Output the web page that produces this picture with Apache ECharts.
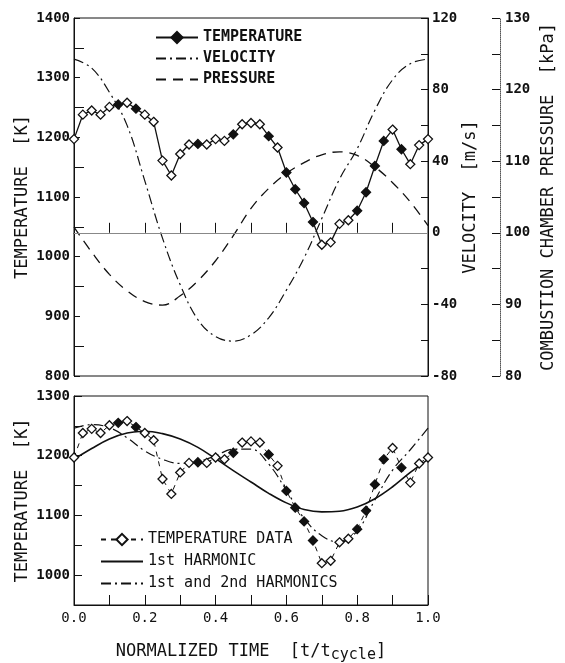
<!DOCTYPE html>
<html>
<head>
<meta charset="utf-8">
<title>Temperature, velocity and pressure over one cycle</title>
<script src="https://cdn.jsdelivr.net/npm/echarts@6/dist/echarts.min.js"></script>
<style>
  html, body { margin: 0; padding: 0; background: #fff; }
  #chart { width: 565px; height: 663px; }
</style>
</head>
<body>
<div id="chart"></div>
<script>
// measured temperature, one sample every 0.025 of the cycle
var sampleTime = [0, 0.025, 0.05, 0.075, 0.1, 0.125, 0.15, 0.175, 0.2, 0.225,
  0.25, 0.275, 0.3, 0.325, 0.35, 0.375, 0.4, 0.425, 0.45, 0.475,
  0.5, 0.525, 0.55, 0.575, 0.6, 0.625, 0.65, 0.675, 0.7, 0.725,
  0.75, 0.775, 0.8, 0.825, 0.85, 0.875, 0.9, 0.925, 0.95, 0.975, 1.0];
var temperature = [1197, 1238, 1245, 1238, 1251, 1255, 1258, 1248, 1238, 1226,
  1161, 1136, 1172, 1188, 1189, 1188, 1197, 1194, 1205, 1222,
  1224, 1222, 1202, 1183, 1141, 1113, 1090, 1058, 1020, 1024,
  1055, 1061, 1077, 1108, 1152, 1194, 1213, 1180, 1155, 1187, 1197];

// smooth curves, read every 0.05
var curveTime = [0, 0.05, 0.1, 0.15, 0.2, 0.25, 0.3, 0.35, 0.4, 0.45, 0.5,
  0.55, 0.6, 0.65, 0.7, 0.75, 0.8, 0.85, 0.9, 0.95, 1.0];
var velocity = [97, 92, 78.5, 60, 29, -3, -29, -48.5, -58, -60.5, -57,
  -47.5, -32, -14, 8, 30, 47, 68.5, 85.5, 94.5, 97];
var pressure = [100.8, 97.3, 94.2, 91.9, 90.4, 89.9, 91.2, 93.3, 96.1, 99.6, 103.4,
  106.2, 108.3, 109.8, 110.9, 111.3, 110.8, 109.2, 107.0, 104.3, 101.0];
var harmonic1 = [1194, 1212, 1228, 1238, 1241, 1237, 1228, 1214, 1195, 1175, 1156,
  1137, 1121, 1110, 1106, 1107, 1114, 1128, 1148, 1172, 1194];
var harmonic12 = [1246, 1252, 1247, 1230, 1208, 1194, 1187, 1190, 1200, 1211, 1211,
  1186, 1142, 1095, 1066, 1055, 1074, 1126, 1176, 1210, 1246];

// samples drawn with a filled diamond
var filledMarks = [5, 7, 14, 18, 22, 24, 25, 26, 27, 32, 33, 34, 35, 37];

var font = "DejaVu Sans Mono";
var ink = "#111";
var clear = "rgba(0,0,0,0)";

function pairs(xs, ys) {
  return xs.map(function (x, i) { return [x, ys[i]]; });
}

function diamonds(openFill) {
  return sampleTime.map(function (t, i) {
    var filled = filledMarks.indexOf(i) >= 0;
    return {
      value: [t, temperature[i]],
      itemStyle: { color: filled ? ink : openFill, borderColor: ink, borderWidth: 1.3 }
    };
  });
}

var tickLabel = {
  fontFamily: font, fontSize: 14, fontWeight: "bold", color: ink,
  formatter: function (v) { return String(v); }
};
var titleText = { fontFamily: font, fontSize: 17, color: ink };
var dashDot = [10, 4, 2, 4];

var myChart = echarts.init(document.getElementById("chart"));
myChart.setOption({
  animation: false,
  backgroundColor: "#fff",
  grid: [
    { left: 74, top: 18, width: 354, height: 358, show: true, borderColor: ink, borderWidth: 1,
      containLabel: false, outerBoundsMode: "none" },
    { left: 74, top: 396, width: 354, height: 209, show: true, borderColor: ink, borderWidth: 1,
      containLabel: false, outerBoundsMode: "none" }
  ],
  legend: [
    {
      left: 150, top: 25, orient: "vertical", itemWidth: 42, itemHeight: 14, itemGap: 6,
      selectedMode: false,
      textStyle: { fontFamily: font, fontSize: 15, fontWeight: "bold", color: ink },
      data: ["TEMPERATURE", "VELOCITY", "PRESSURE"]
    },
    {
      left: 95, top: 527, orient: "vertical", itemWidth: 42, itemHeight: 14, itemGap: 7,
      selectedMode: false,
      textStyle: { fontFamily: font, fontSize: 15, color: ink },
      data: ["TEMPERATURE DATA", "1st HARMONIC", "1st and 2nd HARMONICS"]
    }
  ],
  xAxis: [
    {
      type: "value", gridIndex: 0, min: 0, max: 1, interval: 0.1,
      axisLine: { lineStyle: { color: ink } },
      axisTick: { inside: true, length: 10, lineStyle: { color: ink } },
      axisLabel: { show: false },
      splitLine: { show: false }
    },
    {
      type: "value", gridIndex: 1, min: 0, max: 1, interval: 0.1,
      axisLine: { lineStyle: { color: ink } },
      axisTick: { inside: true, length: 10, lineStyle: { color: ink } },
      axisLabel: Object.assign({}, tickLabel, {
        fontWeight: "normal", margin: 6,
        formatter: function (v) { return Math.round(v * 10) % 2 === 0 ? v.toFixed(1) : ""; }
      }),
      splitLine: { show: false },
      name: "{n|NORMALIZED TIME  [t/t}{s|cycle}{n|]}",
      nameLocation: "middle", nameGap: 35, nameMoveOverlap: false,
      nameTextStyle: {
        rich: {
          n: { fontFamily: font, fontSize: 17, color: ink },
          s: { fontFamily: font, fontSize: 15, color: ink, padding: [8, 0, 0, 0] }
        }
      }
    }
  ],
  yAxis: [
    {
      type: "value", gridIndex: 0, min: 800, max: 1400, interval: 100,
      axisLine: { show: true, lineStyle: { color: ink } },
      axisTick: { inside: true, length: 6, lineStyle: { color: ink } },
      minorTick: { show: true, splitNumber: 2, length: 10, lineStyle: { color: ink } },
      axisLabel: Object.assign({}, tickLabel, { margin: 4 }),
      splitLine: { show: false },
      name: "TEMPERATURE  [K]", nameLocation: "middle", nameRotate: 90, nameGap: 43,
      nameMoveOverlap: false, nameTextStyle: titleText
    },
    {
      type: "value", gridIndex: 0, position: "right", min: -80, max: 120, interval: 40,
      axisLine: { show: true, lineStyle: { color: ink } },
      axisTick: { inside: true, length: 7, lineStyle: { color: ink } },
      minorTick: { show: true, splitNumber: 2, length: 7, lineStyle: { color: ink } },
      axisLabel: Object.assign({}, tickLabel, { margin: 4 }),
      splitLine: { show: false },
      name: "VELOCITY  [m/s]", nameLocation: "middle", nameRotate: 90, nameGap: 34,
      nameMoveOverlap: false, nameTextStyle: titleText
    },
    {
      type: "value", gridIndex: 0, position: "right", offset: 72, min: 80, max: 130, interval: 10,
      axisLine: { show: true, lineStyle: { color: "#555", type: "dotted" } },
      axisTick: { inside: true, length: 8, lineStyle: { color: ink } },
      minorTick: { show: true, splitNumber: 2, length: 8, lineStyle: { color: ink } },
      axisLabel: Object.assign({}, tickLabel, { margin: 5 }),
      splitLine: { show: false },
      name: "COMBUSTION CHAMBER PRESSURE  [kPa]", nameLocation: "middle", nameRotate: 90, nameGap: 40,
      nameMoveOverlap: false, nameTextStyle: titleText
    },
    {
      type: "value", gridIndex: 1, min: 950, max: 1300, interval: 50,
      axisLine: { show: true, lineStyle: { color: ink } },
      axisTick: { inside: true, length: 8, lineStyle: { color: ink } },
      axisLabel: Object.assign({}, tickLabel, {
        margin: 4,
        formatter: function (v) { return v % 100 === 0 ? String(v) : ""; }
      }),
      splitLine: { show: false },
      name: "TEMPERATURE  [K]", nameLocation: "middle", nameRotate: 90, nameGap: 43,
      nameMoveOverlap: false, nameTextStyle: titleText
    }
  ],
  series: [
    {
      name: "VELOCITY", type: "line", xAxisIndex: 0, yAxisIndex: 1,
      data: pairs(curveTime, velocity), smooth: 0.4, showSymbol: false, symbol: "none",
      lineStyle: { color: ink, width: 1.2, type: dashDot },
      itemStyle: { color: clear },
      markLine: {
        silent: true, symbol: ["none", "none"], label: { show: false },
        lineStyle: { color: "#888", type: "solid", width: 1.2 },
        data: [{ yAxis: 0 }]
      }
    },
    {
      name: "PRESSURE", type: "line", xAxisIndex: 0, yAxisIndex: 2,
      data: pairs(curveTime, pressure), smooth: 0.4, showSymbol: false, symbol: "none",
      lineStyle: { color: ink, width: 1.3, type: [10, 7] },
      itemStyle: { color: clear }
    },
    {
      name: "TEMPERATURE", type: "line", xAxisIndex: 0, yAxisIndex: 0,
      data: diamonds("#fff"), symbol: "diamond", symbolSize: 9, showAllSymbol: true,
      lineStyle: { color: ink, width: 1.3 },
      itemStyle: { color: ink, borderColor: ink, borderWidth: 1.3 },
      z: 5
    },
    {
      name: "1st HARMONIC", type: "line", xAxisIndex: 1, yAxisIndex: 3,
      data: pairs(curveTime, harmonic1), smooth: 0.4, showSymbol: false, symbol: "none",
      lineStyle: { color: ink, width: 1.6 },
      itemStyle: { color: clear }
    },
    {
      name: "1st and 2nd HARMONICS", type: "line", xAxisIndex: 1, yAxisIndex: 3,
      data: pairs(curveTime, harmonic12), smooth: 0.4, showSymbol: false, symbol: "none",
      lineStyle: { color: ink, width: 1.2, type: dashDot },
      itemStyle: { color: clear }
    },
    {
      name: "TEMPERATURE DATA", type: "line", xAxisIndex: 1, yAxisIndex: 3,
      data: diamonds("#fff"), symbol: "diamond", symbolSize: 9, showAllSymbol: true,
      lineStyle: { color: ink, width: 1, type: [5, 5] },
      itemStyle: { color: "#fff", borderColor: ink, borderWidth: 1.3 },
      z: 5
    }
  ]
});
</script>
</body>
</html>
